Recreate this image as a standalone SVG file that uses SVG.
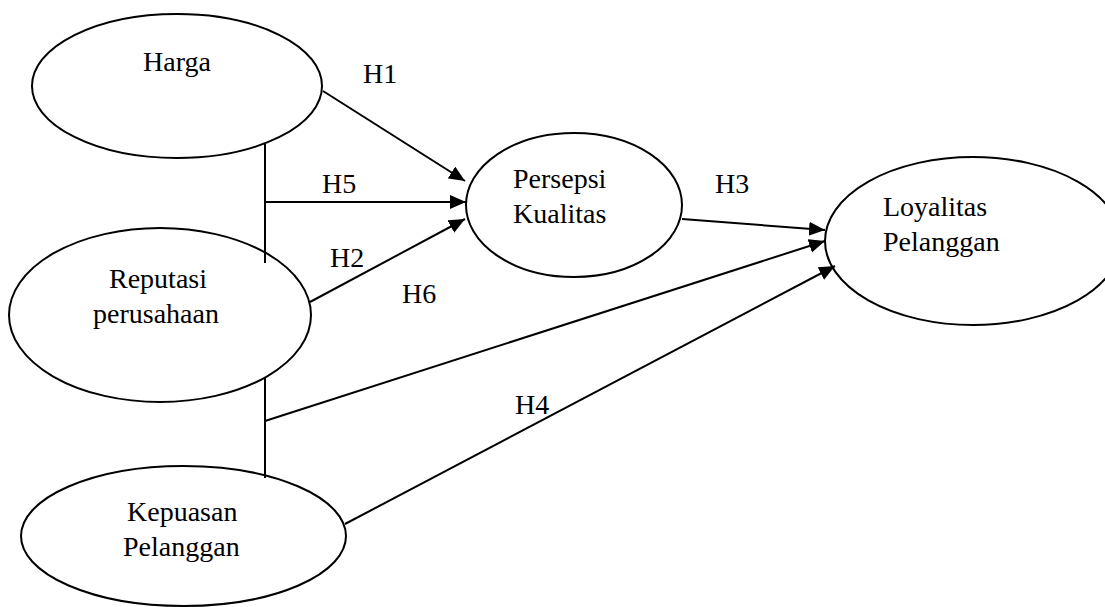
<svg xmlns="http://www.w3.org/2000/svg" width="1105" height="607" viewBox="0 0 1105 607">
<style>
.node ellipse{fill:#fff;stroke:#000;stroke-width:2}
text{font-family:"Liberation Serif","Times New Roman",serif;font-size:28px;fill:#000}
.conn line{stroke:#000;stroke-width:2;fill:none}
</style>
<defs>
<marker id="arr" markerUnits="userSpaceOnUse" markerWidth="17" markerHeight="15" refX="16" refY="7" orient="auto">
<path d="M0,0 L16,7 L0,14 z" fill="#000"/>
</marker>
</defs>
<rect width="1105" height="607" fill="#fff"/>
<g id="harga" class="node">
<ellipse cx="177" cy="86" rx="145" ry="72"/>
<text x="143" y="71">Harga</text>
</g>
<g id="reputasi" class="node">
<ellipse cx="160" cy="315" rx="151" ry="87"/>
<text x="109" y="288">Reputasi</text>
<text x="93" y="323">perusahaan</text>
</g>
<g id="kepuasan" class="node">
<ellipse cx="183.5" cy="536" rx="162.5" ry="70"/>
<text x="127" y="521">Kepuasan</text>
<text x="123" y="556">Pelanggan</text>
</g>
<g id="persepsi" class="node">
<ellipse cx="574" cy="205" rx="108" ry="72"/>
<text x="513" y="188">Persepsi</text>
<text x="513" y="223">Kualitas</text>
</g>
<g id="loyalitas" class="node">
<ellipse cx="973" cy="241" rx="148" ry="84"/>
<text x="883" y="216">Loyalitas</text>
<text x="883" y="251">Pelanggan</text>
</g>
<g id="connectors" class="conn">
<line x1="323" y1="91" x2="465" y2="181" marker-end="url(#arr)"/>
<line x1="265" y1="143" x2="265" y2="263"/>
<line x1="265" y1="202" x2="466" y2="202" marker-end="url(#arr)"/>
<line x1="310" y1="302" x2="465" y2="219" marker-end="url(#arr)"/>
<line x1="682" y1="219" x2="825" y2="230" marker-end="url(#arr)"/>
<line x1="265" y1="378" x2="265" y2="478"/>
<line x1="265" y1="421" x2="825" y2="241" marker-end="url(#arr)"/>
<line x1="345" y1="524" x2="835" y2="266" marker-end="url(#arr)"/>
</g>
<g id="labels">
<text x="363" y="83">H1</text>
<text x="322" y="193">H5</text>
<text x="330" y="267">H2</text>
<text x="402" y="303">H6</text>
<text x="715" y="193">H3</text>
<text x="515" y="414">H4</text>
</g>
</svg>
